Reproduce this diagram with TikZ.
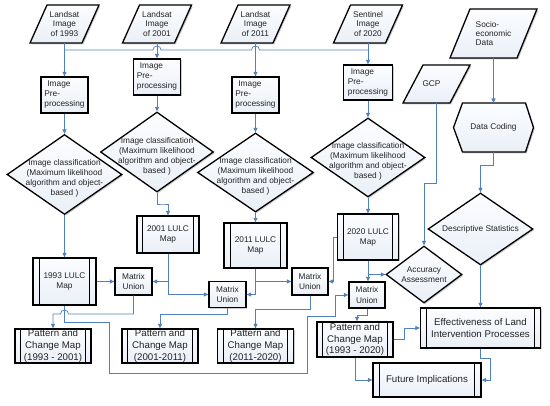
\documentclass[tikz,border=0pt]{standalone}
\usepackage{fontspec}
\setmainfont{Liberation Sans}
\usetikzlibrary{arrows.meta,shapes.geometric,shadows,backgrounds,calc}
\definecolor{cblue}{RGB}{79,129,189}
\definecolor{ftop}{RGB}{252,253,255}
\definecolor{fbot}{RGB}{234,239,247}
\definecolor{ctext}{RGB}{35,35,35}
\tikzset{
  sm/.style={font=\fontsize{8.3}{10}\selectfont, text=ctext},
  smtight/.style={font=\fontsize{8.3}{9.3}\selectfont, text=ctext},
  bigf/.style={font=\fontsize{9.7}{11.7}\selectfont, text=ctext},
  shapebox/.style={draw=black, line width=1.3pt, top color=ftop, bottom color=fbot,
    drop shadow={shadow xshift=1.3pt, shadow yshift=-1.3pt, opacity=0.2, fill=black}},
  rbox/.style={shapebox, inner sep=1pt, align=center},
  holder/.style={inner sep=0pt, outer sep=0pt, align=center},
  dshape/.style={diamond, shapebox, inner sep=0pt},
  conn/.style={draw=cblue, line width=0.75pt},
  arr/.style={conn, -{Triangle[length=4.5pt,width=4pt]}},
  inner/.style={draw=black, line width=1.1pt}
}
\begin{document}
\begin{tikzpicture}[x=1pt,y=-1pt]
\useasboundingbox (0,0) rectangle (550,406);

% ---- input parallelograms (text holders)
\node[holder, smtight, minimum width=52pt, minimum height=38pt] (ls93) at (64.5,24) {Landsat\\Image\\of 1993};
\node[holder, smtight, minimum width=52pt, minimum height=38pt] (ls01) at (157,24) {Landsat\\Image\\of 2001};
\node[holder, smtight, minimum width=52pt, minimum height=38pt] (ls11) at (255.5,24) {Landsat\\Image\\of 2011};
\node[holder, smtight, minimum width=52pt, minimum height=38pt] (sn20) at (368,24) {Sentinel\\Image\\of 2020};
\node[holder, smtight, align=left, minimum width=67pt, minimum height=49pt] (sed) at (493.5,33.5) {Socio-\\economic\\Data};
\node[holder, sm, minimum width=47pt, minimum height=38pt] (gcp) at (436.5,84) {GCP\hspace*{10pt}};
\node[holder, sm, minimum width=80pt, minimum height=49pt] (dc) at (493.5,127.5) {Data Coding};

\begin{scope}[on background layer]
  \foreach \n/\s in {ls93/8.5, ls01/8.5, ls11/8.5, sn20/8.5, sed/10, gcp/10}{
    \path[shapebox] ([xshift=-\s pt]\n.south west) -- ([xshift=\s pt]\n.north west)
      -- ([xshift=\s pt]\n.north east) -- ([xshift=-\s pt]\n.south east) -- cycle;
  }
  \path[shapebox] (dc.west) -- ([xshift=9pt]dc.north west) -- ([xshift=-8pt]dc.north east)
    -- (dc.east) -- ([xshift=-8pt]dc.south east) -- ([xshift=9pt]dc.south west) -- cycle;
\end{scope}

% ---- image pre-processing
\node[rbox, sm, align=left, minimum width=47pt, minimum height=36pt] (pp93) at (64.5,95) {\hspace*{3pt}Image\\Pre-\\processing};
\node[rbox, sm, align=left, minimum width=47pt, minimum height=36pt] (pp01) at (157,77) {\hspace*{3pt}Image\\Pre-\\processing};
\node[rbox, sm, align=left, minimum width=47pt, minimum height=36pt] (pp11) at (255.5,95) {\hspace*{3pt}Image\\Pre-\\processing};
\node[rbox, sm, align=left, minimum width=49pt, minimum height=35pt] (pp20) at (368,82.5) {\hspace*{3pt}Image\\Pre-\\processing};

% ---- classification diamonds
\node[dshape, minimum width=115pt, minimum height=80pt] (cl93) at (64.5,174.5) {};
\node[dshape, minimum width=113pt, minimum height=80pt] (cl01) at (157,152) {};
\node[dshape, minimum width=116pt, minimum height=79pt] (cl11) at (255.5,172.5) {};
\node[dshape, minimum width=114pt, minimum height=79pt] (cl20) at (368,157.5) {};
\foreach \n in {cl93,cl01,cl11,cl20}{
  \node[sm, align=center, inner sep=0pt] (\n t) at ([yshift=-4pt]\n.center) {Image classification\\(Maximum likelihood\\algorithm and object-\\based )};
}

% ---- LULC maps
\node[rbox, sm, minimum width=63pt, minimum height=47pt] (lu93) at (64.5,281.5) {1993 LULC\\Map};
\node[rbox, sm, minimum width=62pt, minimum height=37pt] (lu01) at (168,234.5) {2001 LULC\\Map};
\node[rbox, sm, minimum width=63pt, minimum height=45pt] (lu11) at (255.5,245.5) {2011 LULC\\Map};
\node[rbox, sm, minimum width=61pt, minimum height=46pt] (lu20) at (368,237) {2020 LULC\\Map};

% ---- matrix unions
\node[rbox, sm, font=\fontsize{8.3}{10.7}\selectfont, minimum width=37pt, minimum height=27pt] (mu1) at (133.5,281.5) {Matrix\\Union};
\node[rbox, sm, font=\fontsize{8.3}{10.7}\selectfont, minimum width=37pt, minimum height=26pt] (mu2) at (227.5,294.5) {Matrix\\Union};
\node[rbox, sm, font=\fontsize{8.3}{10.7}\selectfont, minimum width=36pt, minimum height=27pt] (mu3) at (310,281.5) {Matrix\\Union};
\node[rbox, sm, font=\fontsize{8.3}{10.7}\selectfont, minimum width=36pt, minimum height=26pt] (mu4) at (367,295) {Matrix\\Union};

% ---- pattern and change maps
\node[rbox, bigf, inner sep=0pt, minimum width=76pt, minimum height=34pt] (pc1) at (53,346) {Pattern and\\Change Map\\(1993 - 2001)};
\node[rbox, bigf, inner sep=0pt, minimum width=76pt, minimum height=34pt] (pc2) at (160,346) {Pattern and\\Change Map\\(2001-2011)};
\node[rbox, bigf, inner sep=0pt, minimum width=76pt, minimum height=34pt] (pc3) at (255.5,346) {Pattern and\\Change Map\\(2011-2020)};
\node[rbox, bigf, inner sep=0pt, minimum width=76pt, minimum height=35pt] (pc4) at (355,339.5) {Pattern and\\Change Map\\(1993 - 2020)};

% ---- right column
\node[rbox, bigf, minimum width=120pt, minimum height=40pt] (eff) at (480.5,328) {Effectiveness of Land\\Intervention Processes};
\node[rbox, bigf, minimum width=108pt, minimum height=34pt] (fut) at (427,380) {Future Implications};
\node[dshape, minimum width=105pt, minimum height=72pt] (ds) at (480.5,229) {};
\node[sm, inner sep=0pt] (dst) at (ds.center) {Descriptive Statistics};
\node[dshape, minimum width=76pt, minimum height=57pt] (aa) at (424,274.5) {};
\node[sm, align=center, inner sep=0pt] (aat) at (aa.center) {Accuracy\\Assessment};

% inner bars of predefined-process boxes
\foreach \n/\d in {lu93/7.5, lu01/6.5, lu11/7, lu20/6.5, pc1/6.5, pc2/6.5, pc3/6.5, pc4/6.5, eff/6.5, fut/7}{
  \draw[inner] ([xshift=\d pt]\n.north west) -- ([xshift=\d pt]\n.south west)
               ([xshift=-\d pt]\n.north east) -- ([xshift=-\d pt]\n.south east);
}

% ---- connectors
\draw[conn] (ls93.south |- 0,50)
  -- ($(pp01.north |- 0,50)+(-4,0)$) .. controls +(0,-5.3) and +(0,-5.3) .. ($(pp01.north |- 0,50)+(4,0)$)
  -- ($(pp11.north |- 0,50)+(-4,0)$) .. controls +(0,-5.3) and +(0,-5.3) .. ($(pp11.north |- 0,50)+(4,0)$)
  -- (pp20.north |- 0,50);
\draw[arr] (ls93.south) -- (pp93.north);
\draw[arr] (ls01.south) -- (pp01.north);
\draw[arr] (ls11.south) -- (pp11.north);
\draw[arr] (sn20.south) -- (pp20.north);

\draw[arr] (pp93.south) -- (cl93.north);
\draw[arr] (pp01.south) -- (cl01.north);
\draw[arr] (pp11.south) -- (cl11.north);
\draw[arr] (pp20.south) -- (cl20.north);

\draw[arr] (cl93.south) -- (lu93.north);
\draw[arr] (cl01.south) |- ($(cl01.south)!0.5!(lu01.north)$) -| (lu01.north);
\draw[arr] (cl11.south) -- (lu11.north);
\draw[arr] (cl20.south) -- (lu20.north);

\draw[arr] (lu93.east) -- (mu1.west);
\draw[arr] (lu01.south) |- (mu2.west);
\draw[arr] (lu01.south |- mu1.east) -- (mu1.east);
\draw[arr] (lu11.south) |- (mu2.east);
\draw[arr] (lu11.south |- mu3.west) -- (mu3.west);
\draw[arr] (lu20.west) -- ++(-3.5,0) |- (mu3.east);
\draw[arr] (lu20.south) -- (lu20.south |- mu4.north);
\draw[arr] (lu20.south |- aa.west) -- (aa.west);

\draw[arr] (mu1.south) -- (mu1.south |- 0,314)
  -- ($(lu93.south |- 0,314)+(4,0)$) .. controls +(0,-5.3) and +(0,-5.3) .. ($(lu93.south |- 0,314)+(-4,0)$)
  -- (pc1.north |- 0,314) -- (pc1.north);
\draw[arr] (lu93.south) -- (lu93.south |- 0,322) -- (109,322) -- (109,373) -- (307,373)
  -- (307,316) -- (335,316) -- (335,0 |- mu4.west) -- (mu4.west);
\draw[arr] (mu2.south) -- (mu2.south |- 0,314) -| (pc2.north);
\draw[arr] (mu3.south) -- (mu3.south |- 0,309) -| (pc3.north);
\draw[arr] (mu4.south) -- (mu4.south |- 0,315) -| ([xshift=2pt]pc4.north);

\draw[arr] (pc4.east) -- ++(11,0) |- (eff.west);
\draw[arr] (pc4.south) |- (fut.west);
\draw[arr] (eff.south) -- ++(0,10) -| ($(fut.east)+(9,0)$) -- (fut.east);

\draw[arr] (sed.south) -- (dc.north);
\draw[arr] (dc.south) -- ++(0,13) -| (ds.north);
\draw[arr] (ds.south) -- (eff.north);
\draw[arr] (gcp.south) -- (gcp.south |- 0,183) -| (aa.north);
\end{tikzpicture}
\end{document}
